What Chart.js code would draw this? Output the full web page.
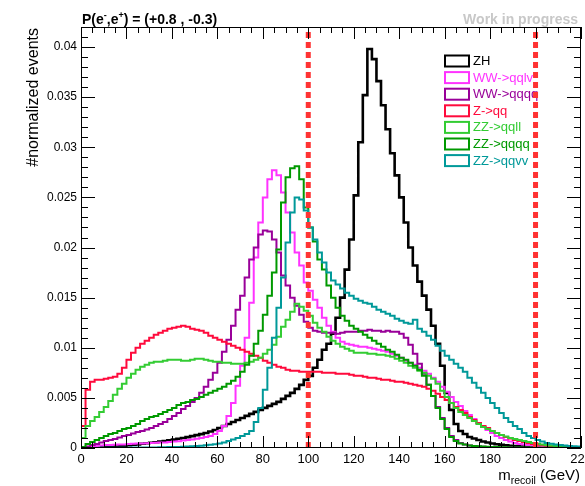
<!DOCTYPE html>
<html><head><meta charset="utf-8">
<script src="https://cdn.jsdelivr.net/npm/chart.js@4.4.0/dist/chart.umd.min.js"></script>
<style>html,body{margin:0;padding:0;background:#fff;}#wrap{width:585px;height:486px;}</style>
</head><body><div id="wrap"><canvas id="c" width="585" height="486"></canvas></div>
<script>
// ---- data (normalized events per 2 GeV bin, bins from 0 to 220 GeV) ----
const binWidth = 2;
const categories = ['ZH','WW->qqlv','WW->qqqq','Z->qq','ZZ->qqll','ZZ->qqqq','ZZ->qqvv'];
const seriesColors = ['#000000','#ff33ff','#990099','#ff0a3c','#33cc33','#009900','#009999'];
const cutLines = [100, 200];
const xTickStep = 20;
const yTickStep = 0.005;

const ZH = [0.3e-4,0.5e-4,0.7e-4,0.8e-4,1e-4,1.2e-4,1.4e-4,1.8e-4,2e-4,2.4e-4,
2.8e-4,3.2e-4,3.6e-4,4.2e-4,4.8e-4,5.2e-4,5.8e-4,6.4e-4,7e-4,7.8e-4,
8.4e-4,9.2e-4,10e-4,10.8e-4,11.8e-4,12.8e-4,13.8e-4,15e-4,16.5e-4,18e-4,
20e-4,22e-4,24e-4,26e-4,28e-4,30e-4,32e-4,34e-4,36e-4,38e-4,
40e-4,42e-4,44e-4,46e-4,49e-4,52e-4,55e-4,59e-4,63e-4,68e-4,
72e-4,80e-4,88e-4,98e-4,104e-4,114e-4,130e-4,150e-4,178e-4,208e-4,
252e-4,305e-4,352e-4,398e-4,388e-4,366e-4,342e-4,318e-4,294e-4,272e-4,
250e-4,225e-4,200e-4,182e-4,166e-4,152e-4,138e-4,122e-4,104e-4,82e-4,
55e-4,38e-4,24e-4,17e-4,14e-4,11e-4,9.5e-4,8e-4,6.5e-4,5.5e-4,
4.5e-4,3.8e-4,3.2e-4,2.7e-4,2.3e-4,2e-4,1.7e-4,1.4e-4,1.2e-4,1e-4,
0.9e-4,0.8e-4,0.7e-4,0.6e-4,0.5e-4,0.5e-4,0.4e-4,0.4e-4,0.3e-4,0.3e-4];

const WW_qqlv = [0.5e-4,1e-4,1.5e-4,2e-4,2.5e-4,3e-4,3e-4,3.2e-4,3.4e-4,3.6e-4,
4e-4,4.2e-4,4.4e-4,4.6e-4,4.8e-4,5e-4,5.2e-4,5.4e-4,5.6e-4,6e-4,
6.4e-4,6.8e-4,7.4e-4,8e-4,8.6e-4,9.2e-4,10e-4,11e-4,12e-4,14e-4,
17e-4,22e-4,32e-4,45e-4,62e-4,82e-4,110e-4,145e-4,190e-4,225e-4,
250e-4,268e-4,277e-4,272e-4,255e-4,235e-4,215e-4,195e-4,182e-4,165e-4,
157e-4,148e-4,140e-4,130e-4,122e-4,116e-4,110e-4,106e-4,104e-4,103e-4,
102e-4,101e-4,101e-4,100e-4,99e-4,98e-4,97e-4,96e-4,94e-4,92e-4,
90e-4,87e-4,85e-4,83e-4,80e-4,77e-4,74e-4,70e-4,66e-4,61e-4,
56e-4,51e-4,46e-4,42e-4,37e-4,33e-4,29e-4,25e-4,21e-4,18e-4,
15e-4,12e-4,10e-4,8e-4,6.5e-4,5e-4,4e-4,3.5e-4,3e-4,2.5e-4,
2e-4,1.8e-4,1.5e-4,1.3e-4,1.2e-4,1e-4,1e-4,0.8e-4,0.7e-4,0.6e-4];

const WW_qqqq = [0.3e-4,1.5e-4,3e-4,4e-4,5.5e-4,7e-4,8e-4,9e-4,10.5e-4,12e-4,
13e-4,14.5e-4,16e-4,17e-4,18.5e-4,20e-4,22e-4,24e-4,26e-4,29e-4,
32e-4,35e-4,39e-4,42e-4,46e-4,50e-4,55e-4,61e-4,68e-4,75e-4,
85e-4,96e-4,108e-4,122e-4,138e-4,152e-4,170e-4,188e-4,200e-4,213e-4,
217e-4,216e-4,208e-4,195e-4,172e-4,162e-4,150e-4,142e-4,133e-4,126e-4,
120e-4,117e-4,116e-4,115e-4,115e-4,115e-4,114e-4,115e-4,116e-4,116e-4,
116e-4,117e-4,117e-4,118e-4,117e-4,117e-4,116e-4,117e-4,116e-4,116e-4,
114e-4,110e-4,103e-4,94e-4,84e-4,74e-4,63e-4,52e-4,41e-4,30e-4,
20e-4,12e-4,8e-4,5e-4,3.5e-4,2.5e-4,2e-4,1.5e-4,1.2e-4,1e-4,
0.8e-4,0.6e-4,0.5e-4,0.4e-4,0.4e-4,0.3e-4,0.3e-4,0.2e-4,0.2e-4,0.2e-4,
0.2e-4,0.1e-4,0.1e-4,0.1e-4,0.1e-4,0.1e-4,0.1e-4,0.1e-4,0.1e-4,0.1e-4];

const Z_qq = [22e-4,58e-4,66e-4,68e-4,68e-4,69e-4,70e-4,71e-4,74e-4,80e-4,
88e-4,95e-4,100e-4,104e-4,107e-4,110e-4,113e-4,115e-4,117e-4,119e-4,
120e-4,121e-4,122e-4,121e-4,119e-4,118e-4,117e-4,115e-4,112e-4,110e-4,
108e-4,106e-4,104e-4,102e-4,100e-4,98e-4,96e-4,94e-4,92e-4,90e-4,
87e-4,85e-4,83e-4,81e-4,80e-4,78e-4,77e-4,77e-4,76e-4,76e-4,
76e-4,76e-4,76e-4,75e-4,75e-4,75e-4,74e-4,74e-4,74e-4,73e-4,
72e-4,72e-4,71e-4,70e-4,70e-4,69e-4,68e-4,68e-4,67e-4,66e-4,
66e-4,65e-4,64e-4,63e-4,62e-4,61e-4,59e-4,57e-4,54e-4,51e-4,
48e-4,45e-4,41e-4,38e-4,35e-4,31e-4,28e-4,25e-4,22e-4,20e-4,
17e-4,15e-4,13e-4,11e-4,9.5e-4,8e-4,7e-4,6e-4,5e-4,4e-4,
3.3e-4,2.7e-4,2.2e-4,1.8e-4,1.5e-4,1.3e-4,1.1e-4,1e-4,0.9e-4,0.8e-4];

const ZZ_qqll = [10e-4,22e-4,27e-4,31e-4,36e-4,41e-4,47e-4,53e-4,59e-4,64e-4,
70e-4,74e-4,78e-4,81e-4,83e-4,85e-4,86e-4,86e-4,87e-4,88e-4,
88e-4,88e-4,87e-4,87e-4,88e-4,89e-4,89e-4,88e-4,87e-4,86e-4,
86e-4,85e-4,85e-4,84e-4,84e-4,84e-4,85e-4,86e-4,88e-4,90e-4,
94e-4,98e-4,103e-4,111e-4,121e-4,128e-4,136e-4,144e-4,141e-4,137e-4,
132e-4,125e-4,120e-4,116e-4,111e-4,107e-4,104e-4,101e-4,99e-4,97e-4,
95e-4,95e-4,95e-4,94e-4,94e-4,93e-4,93e-4,92e-4,91e-4,89e-4,
87e-4,85e-4,82e-4,80e-4,77e-4,75e-4,72e-4,69e-4,64e-4,57e-4,
51e-4,45e-4,40e-4,36e-4,33e-4,30e-4,27e-4,24e-4,21e-4,19e-4,
17e-4,15e-4,13e-4,11.5e-4,10e-4,9e-4,8e-4,7e-4,6e-4,5e-4,
4.3e-4,3.6e-4,3e-4,2.5e-4,2e-4,1.8e-4,1.5e-4,1.3e-4,1.1e-4,1e-4];

const ZZ_qqqq = [1e-4,4e-4,6e-4,8e-4,10e-4,12e-4,14e-4,15e-4,17e-4,19e-4,
20e-4,22e-4,24e-4,27e-4,29e-4,31e-4,32e-4,34e-4,36e-4,38e-4,
40e-4,43e-4,45e-4,46e-4,48e-4,49e-4,51e-4,53e-4,55e-4,57e-4,
59e-4,61e-4,64e-4,67e-4,71e-4,76e-4,83e-4,92e-4,104e-4,117e-4,
133e-4,152e-4,175e-4,198e-4,245e-4,270e-4,279e-4,281e-4,268e-4,240e-4,
220e-4,206e-4,188e-4,178e-4,162e-4,150e-4,140e-4,132e-4,127e-4,122e-4,
119e-4,116e-4,113e-4,110e-4,107e-4,104e-4,101e-4,98e-4,96e-4,93e-4,
90e-4,88e-4,85e-4,82e-4,78e-4,72e-4,63e-4,52e-4,40e-4,29e-4,
19e-4,11e-4,7e-4,4.5e-4,3.5e-4,2.5e-4,2e-4,1.7e-4,1.4e-4,1.2e-4,
1e-4,0.9e-4,0.8e-4,0.7e-4,0.6e-4,0.5e-4,0.5e-4,0.4e-4,0.4e-4,0.3e-4,
0.3e-4,0.3e-4,0.2e-4,0.2e-4,0.2e-4,0.2e-4,0.2e-4,0.1e-4,0.1e-4,0.1e-4];

const ZZ_qqvv = [0.1e-4,0.1e-4,0.1e-4,0.1e-4,0.2e-4,0.2e-4,0.2e-4,0.2e-4,0.3e-4,0.3e-4,
0.3e-4,0.4e-4,0.4e-4,0.5e-4,0.5e-4,0.6e-4,0.6e-4,0.7e-4,0.8e-4,0.9e-4,
1e-4,1.1e-4,1.3e-4,1.5e-4,1.7e-4,2e-4,2.3e-4,2.7e-4,3.2e-4,3.8e-4,
4.5e-4,5.5e-4,7e-4,8.5e-4,10e-4,12e-4,14e-4,17e-4,26e-4,40e-4,
58e-4,80e-4,110e-4,140e-4,170e-4,205e-4,235e-4,250e-4,248e-4,237e-4,
220e-4,208e-4,195e-4,185e-4,175e-4,167e-4,163e-4,159e-4,155e-4,152e-4,
149e-4,147e-4,145e-4,144e-4,141e-4,138e-4,136e-4,134e-4,132e-4,129e-4,
127e-4,125e-4,124e-4,128e-4,119e-4,116e-4,112e-4,108e-4,102e-4,97e-4,
92e-4,88e-4,84e-4,80e-4,76e-4,70e-4,65e-4,60e-4,55e-4,50e-4,
45e-4,40e-4,35e-4,30e-4,26e-4,22e-4,19e-4,15e-4,12e-4,10e-4,
8e-4,6.5e-4,5e-4,4.2e-4,3.5e-4,3e-4,2.5e-4,2.1e-4,1.8e-4,1.5e-4];

const seriesValues = [ZH, WW_qqlv, WW_qqqq, Z_qq, ZZ_qqll, ZZ_qqqq, ZZ_qqvv];
const xMin = 0, xMax = 220, yMin = 0, yMax = 0.042;

// ---- build step-histogram point lists (bin lower edges) ----
function histPoints(vals) {
  const pts = [{x: 0, y: 0}];
  vals.forEach((v, i) => pts.push({x: i * binWidth, y: v}));
  pts.push({x: vals.length * binWidth, y: vals[vals.length - 1]});
  return pts;
}

const FONT = '"Liberation Sans", Arial, Helvetica, sans-serif';

const datasets = categories.map((name, i) => ({
  label: name,
  data: histPoints(seriesValues[i]),
  borderColor: seriesColors[i],
  backgroundColor: seriesColors[i],
  borderWidth: i === 0 ? 2.6 : 2,
  stepped: 'before',
  pointRadius: 0,
  fill: false,
  order: categories.length - i
}));
cutLines.forEach(c => datasets.push({
  label: 'cut' + c,
  data: [{x: c, y: yMin}, {x: c, y: yMax}],
  borderColor: '#ff3333',
  borderWidth: 5,
  borderDash: [6, 4],
  pointRadius: 0,
  fill: false,
  order: -1
}));

const decor = {
  id: 'decor',
  beforeDatasetsDraw(chart) {
    const ctx = chart.ctx;
    ctx.save();
    ctx.font = '13px ' + FONT;
    ctx.textBaseline = 'middle';
    categories.forEach((name, i) => {
      const cy = 61 + i * 16.6;
      ctx.strokeStyle = seriesColors[i];
      ctx.lineWidth = 2;
      ctx.strokeRect(445, cy - 5.5, 24, 11);
      ctx.fillStyle = seriesColors[i];
      ctx.fillText(name, 473, cy + 0.5);
    });
    ctx.restore();
  },
  afterDraw(chart) {
    const ctx = chart.ctx;
    const {left, right, top, bottom} = chart.chartArea;
    const xs = chart.scales.x, ys = chart.scales.y;
    ctx.save();
    ctx.strokeStyle = '#000';
    ctx.lineWidth = 1;
    ctx.beginPath();
    ctx.rect(left + 0.5, top + 0.5, right - left - 1, bottom - top - 1);
    ctx.stroke();
    ctx.beginPath();
    for (let k = 0; k <= (xMax - xMin) / 5; k++) {
      const v = xMin + k * 5;
      const px = Math.round(xs.getPixelForValue(v)) + 0.5;
      const len = (v % xTickStep === 0) ? 12 : 6;
      ctx.moveTo(px, bottom); ctx.lineTo(px, bottom - len);
      ctx.moveTo(px, top); ctx.lineTo(px, top + len);
    }
    for (let k = 0; k <= 42; k++) {
      const v = k * 0.001;
      const py = Math.round(ys.getPixelForValue(v)) + 0.5;
      const len = (k % 5 === 0) ? 14 : 7;
      ctx.moveTo(left, py); ctx.lineTo(left + len, py);
      ctx.moveTo(right, py); ctx.lineTo(right - len, py);
    }
    ctx.stroke();

    ctx.fillStyle = '#000';
    ctx.textBaseline = 'alphabetic';
    ctx.textAlign = 'left';
    let x = 82; const by = 24;
    const big = 'bold 14px ' + FONT, sup = 'bold 9px ' + FONT;
    const parts = [['P(e', big, 0], ['-', sup, -6], [',e', big, 0], ['+', sup, -6], [') = (+0.8 , -0.3)', big, 0]];
    parts.forEach(([t, f, dy]) => { ctx.font = f; ctx.fillText(t, x, by + dy); x += ctx.measureText(t).width; });

    ctx.font = 'bold 14px ' + FONT;
    ctx.fillStyle = '#c8c8c8';
    ctx.textAlign = 'right';
    ctx.fillText('Work in progress', 578, by);

    ctx.fillStyle = '#000';
    ctx.save();
    ctx.translate(38, 28);
    ctx.rotate(-Math.PI / 2);
    ctx.font = '16px ' + FONT;
    ctx.textAlign = 'right';
    ctx.fillText('#normalized events', 0, 0);
    ctx.restore();

    ctx.textAlign = 'left';
    const f1 = '15px ' + FONT, f2 = '10.5px ' + FONT;
    ctx.font = f1; const wm = ctx.measureText('m').width; const wg = ctx.measureText(' (GeV)').width;
    ctx.font = f2; const wr = ctx.measureText('recoil').width;
    let tx = 580 - (wm + wr + wg);
    ctx.font = f1; ctx.fillText('m', tx, 480); tx += wm;
    ctx.font = f2; ctx.fillText('recoil', tx, 484); tx += wr;
    ctx.font = f1; ctx.fillText(' (GeV)', tx, 480);
    ctx.restore();
  }
};

new Chart(document.getElementById('c'), {
  type: 'line',
  data: {datasets},
  options: {
    responsive: false,
    animation: false,
    events: [],
    devicePixelRatio: 1,
    layout: {padding: {top: 27, right: 4, left: 0, bottom: 0}},
    plugins: {legend: {display: false}, tooltip: {enabled: false}, title: {display: false}},
    scales: {
      x: {
        type: 'linear', min: xMin, max: xMax,
        grid: {display: false, drawTicks: false},
        border: {display: false},
        ticks: {stepSize: xTickStep, padding: 4, color: '#000', font: {family: FONT, size: 13}, maxRotation: 0, autoSkip: false},
        afterFit(s) { s.height = 38; s.paddingLeft = 0; s.paddingRight = 0; }
      },
      y: {
        type: 'linear', min: yMin, max: yMax,
        grid: {display: false, drawTicks: false},
        border: {display: false},
        ticks: {stepSize: yTickStep, includeBounds: false, padding: 4, color: '#000', font: {family: FONT, size: 12},
          callback: v => (Math.abs(v / yTickStep - Math.round(v / yTickStep)) < 1e-6) ? String(+v.toFixed(3)) : ''},
        afterFit(s) { s.width = 81; s.paddingTop = 0; s.paddingBottom = 0; }
      }
    }
  },
  plugins: [decor]
});
</script>
</body></html>
